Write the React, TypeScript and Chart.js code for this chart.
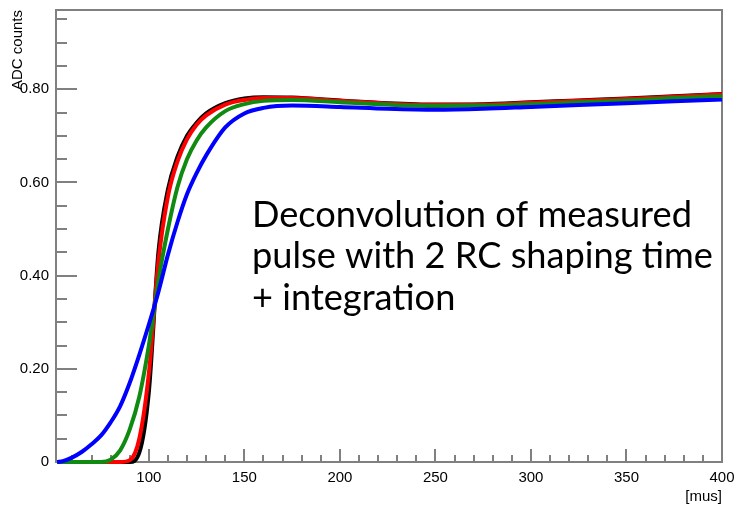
import React, { useEffect, useRef } from "react";
import { Chart, registerables } from "chart.js";

Chart.register(...registerables);

const X_VALUES = [52, 55, 60, 65, 70, 75, 80, 85, 90, 95, 100, 105, 110, 115, 120, 125, 130, 140, 150, 160, 175, 200, 225, 250, 275, 300, 325, 350, 375, 400];
const BLACK = [0, 0, 0, 0, 0, 0, 0, 0, 0, 0.02, 0.15, 0.45, 0.585, 0.655, 0.7, 0.728, 0.748, 0.77, 0.78, 0.783, 0.782, 0.776, 0.77, 0.767, 0.768, 0.772, 0.776, 0.78, 0.785, 0.79];
const RED = [0, 0, 0, 0, 0, 0, 0, 0, 0.004, 0.05, 0.19, 0.43, 0.57, 0.645, 0.693, 0.724, 0.744, 0.767, 0.777, 0.781, 0.781, 0.775, 0.769, 0.766, 0.767, 0.771, 0.775, 0.779, 0.784, 0.789];
const GREEN = [0, 0, 0, 0, 0, 0, 0.005, 0.025, 0.07, 0.14, 0.25, 0.39, 0.5, 0.59, 0.65, 0.69, 0.718, 0.753, 0.768, 0.775, 0.777, 0.772, 0.767, 0.764, 0.765, 0.768, 0.772, 0.776, 0.781, 0.785];
const BLUE = [0, 0.002, 0.01, 0.022, 0.038, 0.057, 0.085, 0.12, 0.17, 0.23, 0.295, 0.365, 0.445, 0.515, 0.575, 0.62, 0.658, 0.718, 0.748, 0.76, 0.765, 0.762, 0.758, 0.756, 0.758, 0.762, 0.766, 0.77, 0.774, 0.778];

const X_TICKS = [100, 150, 200, 250, 300, 350, 400];
const X_MINOR = [60, 70, 80, 90, 110, 120, 130, 140, 160, 170, 180, 190, 210, 220, 230, 240, 260, 270, 280, 290, 310, 320, 330, 340, 360, 370, 380, 390];
const Y_TICKS = [0, 0.2, 0.4, 0.6, 0.8];
const Y_TICK_LABELS = ["0", "0.20", "0.40", "0.60", "0.80"];
const Y_MINOR = [0.05, 0.1, 0.15, 0.25, 0.3, 0.35, 0.45, 0.5, 0.55, 0.65, 0.7, 0.75, 0.85, 0.9, 0.95];
const X_MIN = 51.4;
const X_MAX = 400;
const Y_MIN = 0;
const Y_MAX = 0.97;

const Y_TITLE = "ADC counts";
const X_TITLE = "[mus]";
const NOTE_LINES = ["Deconvolution of measured", "pulse with 2 RC shaping time", "+ integration"];

const AXIS_GRAY = "#808080";

const framePlugin = {
  id: "rootFrame",
  beforeDatasetsDraw(chart: any) {
    const { ctx, chartArea } = chart;
    const { left, right, top, bottom } = chartArea;
    const xs = chart.scales.x;
    const ys = chart.scales.y;
    ctx.save();
    ctx.strokeStyle = AXIS_GRAY;
    ctx.lineWidth = 2;
    ctx.strokeRect(left, top, right - left, bottom - top);
    ctx.beginPath();
    for (const v of X_TICKS) {
      const px = Math.round(xs.getPixelForValue(v));
      ctx.moveTo(px, bottom);
      ctx.lineTo(px, bottom - 13);
    }
    for (const v of X_MINOR) {
      const px = Math.round(xs.getPixelForValue(v));
      ctx.moveTo(px, bottom);
      ctx.lineTo(px, bottom - 7);
    }
    for (const v of Y_TICKS) {
      const py = Math.round(ys.getPixelForValue(v));
      ctx.moveTo(left, py);
      ctx.lineTo(left + 21, py);
    }
    for (const v of Y_MINOR) {
      const py = Math.round(ys.getPixelForValue(v));
      ctx.moveTo(left, py);
      ctx.lineTo(left + 11, py);
    }
    ctx.stroke();
    ctx.restore();
  },
  afterDraw(chart: any) {
    const { ctx, chartArea } = chart;
    ctx.save();
    ctx.fillStyle = "#000";
    ctx.font = "15px 'Liberation Sans', Arial, sans-serif";
    ctx.translate(18, chartArea.top);
    ctx.rotate(-Math.PI / 2);
    ctx.textAlign = "right";
    ctx.textBaseline = "middle";
    ctx.fillText(Y_TITLE, 0, 0);
    ctx.restore();

    ctx.save();
    ctx.fillStyle = "#000";
    ctx.font = "15px 'Liberation Sans', Arial, sans-serif";
    ctx.textAlign = "right";
    ctx.textBaseline = "middle";
    ctx.fillText(X_TITLE, chartArea.right, 497);

    let size = 34;
    ctx.font = `${size}px Lato, sans-serif`;
    const w = ctx.measureText(NOTE_LINES[0]).width;
    size = (size * 440) / w;
    ctx.font = `${size}px Lato, sans-serif`;
    ctx.textAlign = "left";
    ctx.textBaseline = "alphabetic";
    const baselines = [227, 268, 310];
    NOTE_LINES.forEach((t, i) => ctx.fillText(t, 252, baselines[i]));
    ctx.restore();
  },
};

export default function App() {
  const ref = useRef<HTMLCanvasElement | null>(null);
  useEffect(() => {
    document.body.style.margin = "0";
    const canvas = ref.current!;
    const mk = (label: string, data: number[], color: string) => ({
      label,
      data: X_VALUES.map((x, i) => ({ x, y: data[i] })),
      borderColor: color,
      backgroundColor: color,
      borderWidth: 4,
      pointRadius: 0,
      cubicInterpolationMode: "monotone" as const,
      clip: 3,
    });
    const chart = new Chart(canvas, {
      type: "line",
      data: {
        datasets: [
          mk("blue", BLUE, "#0000ff"),
          mk("green", GREEN, "#108a10"),
          mk("red", RED, "#ff0000"),
          mk("black", BLACK, "#000000"),
        ],
      },
      options: {
        animation: false,
        responsive: false,
        layout: { padding: { top: 10, right: 18, left: 0, bottom: 0 } },
        plugins: { legend: { display: false }, tooltip: { enabled: false } },
        scales: {
          x: {
            type: "linear",
            min: X_MIN,
            max: X_MAX,
            grid: { display: false, drawTicks: false },
            border: { display: false },
            afterBuildTicks: (s: any) => {
              s.ticks = X_TICKS.map((v) => ({ value: v }));
            },
            afterFit: (s: any) => {
              s.height = 45;
              s.paddingLeft = 0;
              s.paddingRight = 0;
            },
            ticks: {
              padding: 7,
              color: "#000",
              maxRotation: 0,
              font: { family: "'Liberation Sans', Arial, sans-serif", size: 15 },
              callback: (v: any) => String(v),
            },
          },
          y: {
            type: "linear",
            min: Y_MIN,
            max: Y_MAX,
            grid: { display: false, drawTicks: false },
            border: { display: false },
            afterBuildTicks: (s: any) => {
              s.ticks = Y_TICKS.map((v) => ({ value: v }));
            },
            afterFit: (s: any) => {
              s.width = 56;
              s.paddingTop = 0;
              s.paddingBottom = 0;
            },
            ticks: {
              padding: 7,
              color: "#000",
              font: { family: "'Liberation Sans', Arial, sans-serif", size: 15 },
              callback: (v: any) => {
                const i = Y_TICKS.findIndex((t) => Math.abs(t - v) < 1e-9);
                return i >= 0 ? Y_TICK_LABELS[i] : "";
              },
            },
          },
        },
      },
      plugins: [framePlugin],
    });
    return () => chart.destroy();
  }, []);
  return (
    <div style={{ width: 740, height: 507, background: "#fff" }}>
      <canvas ref={ref} width={740} height={507} style={{ display: "block" }} />
    </div>
  );
}
